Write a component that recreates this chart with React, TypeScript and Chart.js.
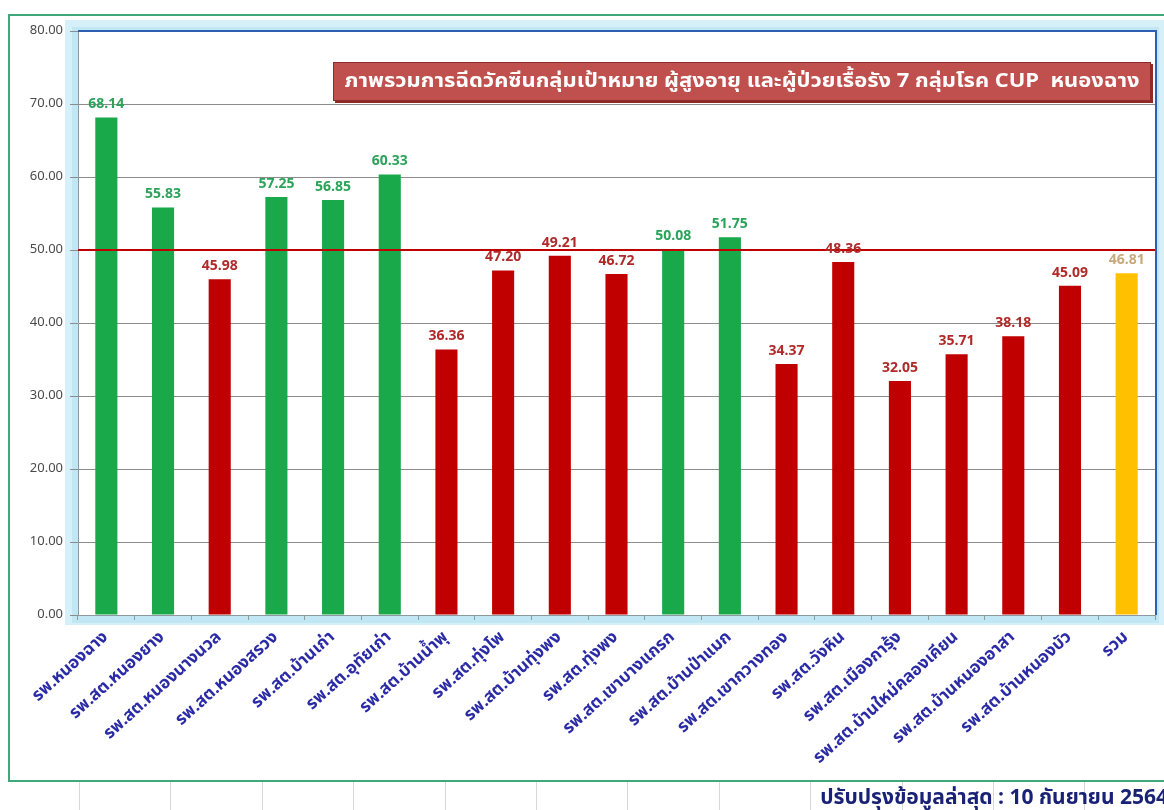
import React, { useEffect, useRef } from "react";
import { Chart, registerables } from "chart.js";

Chart.register(...registerables);

const categories: string[] = [
  "รพ.หนองฉาง",
  "รพ.สต.หนองยาง",
  "รพ.สต.หนองนางนวล",
  "รพ.สต.หนองสรวง",
  "รพ.สต.บ้านเก่า",
  "รพ.สต.อุทัยเก่า",
  "รพ.สต.บ้านน้ำพุ",
  "รพ.สต.ทุ่งโพ",
  "รพ.สต.บ้านทุ่งพง",
  "รพ.สต.ทุ่งพง",
  "รพ.สต.เขาบางแกรก",
  "รพ.สต.บ้านป่าแมก",
  "รพ.สต.เขากวางทอง",
  "รพ.สต.วังหิน",
  "รพ.สต.เมืองการุ้ง",
  "รพ.สต.บ้านใหม่คลองเคียน",
  "รพ.สต.บ้านหนองอาสา",
  "รพ.สต.บ้านหนองบัว",
  "รวม",
];

const values: number[] = [
  68.14, 55.83, 45.98, 57.25, 56.85, 60.33, 36.36, 47.2, 49.21, 46.72, 50.08,
  51.75, 34.37, 48.36, 32.05, 35.71, 38.18, 45.09, 46.81,
];

const targetValue = 50;
const yMin = 0;
const yMax = 80;
const yStep = 10;

const titleText =
  "ภาพรวมการฉีดวัคซีนกลุ่มเป้าหมาย ผู้สูงอายุ และผู้ป่วยเรื้อรัง 7 กลุ่มโรค CUP  หนองฉาง";
const footerText = "ปรับปรุงข้อมูลล่าสุด : 10 กันยายน 2564";

const FONT = "Tahoma, 'Noto Sans Thai', 'Noto Sans', 'DejaVu Sans', sans-serif";

const GREEN = "#19a84a";
const RED = "#c00000";
const YELLOW = "#ffc000";

export default function App() {
  const ref = useRef<HTMLCanvasElement | null>(null);

  useEffect(() => {
    if (!ref.current) return;
    const totalIndex = categories.length - 1;
    const barColors = values.map((v, i) =>
      i === totalIndex ? YELLOW : v >= targetValue ? GREEN : RED
    );
    const labelColors = values.map((v, i) =>
      i === totalIndex ? "#c9a97a" : v >= targetValue ? "#2ba35a" : "#b02a2a"
    );

    const framePlugin = {
      id: "frame",
      beforeDraw(chart: any) {
        const { ctx, chartArea, width, height } = chart;
        ctx.save();
        ctx.fillStyle = "#ffffff";
        ctx.fillRect(0, 0, width, height);
        // excel cell lines below frame
        ctx.strokeStyle = "#d8d8d8";
        ctx.lineWidth = 1;
        for (let x = 79; x < width; x += 91.4) {
          ctx.beginPath();
          ctx.moveTo(Math.round(x) + 0.5, 782);
          ctx.lineTo(Math.round(x) + 0.5, height);
          ctx.stroke();
        }
        // outer green frame
        ctx.strokeStyle = "#3ea878";
        ctx.lineWidth = 2;
        ctx.strokeRect(9, 15, width + 20, 766);
        // light blue wall
        const l = chartArea.left,
          r = chartArea.right,
          t = chartArea.top,
          b = chartArea.bottom;
        ctx.fillStyle = "#d6f0f9";
        ctx.fillRect(l - 13, t - 11, r - l + 22, b - t + 21);
        ctx.fillStyle = "#c2e7f4";
        ctx.fillRect(l - 6, t - 4, r - l + 10, b - t + 12);
        ctx.fillStyle = "#ffffff";
        ctx.fillRect(l, t, r - l, b - t);
        ctx.restore();
      },
      beforeDatasetsDraw(chart: any) {
        const { ctx, chartArea } = chart;
        ctx.save();
        ctx.strokeStyle = "#2f5fb0";
        ctx.lineWidth = 2;
        ctx.beginPath();
        ctx.moveTo(chartArea.left, chartArea.top);
        ctx.lineTo(chartArea.right + 1, chartArea.top);
        ctx.lineTo(chartArea.right + 1, chartArea.bottom);
        ctx.stroke();
        ctx.restore();
      },
      afterDatasetsDraw(chart: any) {
        const { ctx, chartArea } = chart;
        const y = chart.scales.y.getPixelForValue(targetValue);
        ctx.save();
        ctx.strokeStyle = "#c00000";
        ctx.lineWidth = 2;
        ctx.beginPath();
        ctx.moveTo(chartArea.left, y);
        ctx.lineTo(chartArea.right, y);
        ctx.stroke();

        // value labels
        const meta = chart.getDatasetMeta(0);
        ctx.font = `bold 14px ${FONT}`;
        ctx.textAlign = "center";
        ctx.textBaseline = "bottom";
        meta.data.forEach((bar: any, i: number) => {
          ctx.fillStyle = labelColors[i];
          ctx.fillText(values[i].toFixed(2), bar.x, bar.y - 5);
        });

        // title box
        const bw = 818,
          bh = 39;
        const bx = chartArea.right - 4 - bw;
        const by = chartArea.top + 31;
        ctx.fillStyle = "#8f2a28";
        ctx.fillRect(bx + 2, by + 2, bw, bh);
        ctx.fillStyle = "#c0504d";
        ctx.fillRect(bx, by, bw, bh);
        ctx.strokeStyle = "#8c2b29";
        ctx.lineWidth = 1;
        ctx.strokeRect(bx + 0.5, by + 0.5, bw - 1, bh - 1);
        ctx.fillStyle = "#ffffff";
        ctx.font = `bold 20px ${FONT}`;
        ctx.textBaseline = "middle";
        const tw = ctx.measureText(titleText).width;
        const target = 795;
        ctx.save();
        ctx.translate(bx + bw / 2, by + bh / 2 + 1);
        ctx.scale(Math.min(1.3, target / tw), 1);
        ctx.fillText(titleText, 0, 0);
        ctx.restore();

        // footer
        ctx.fillStyle = "#1a2275";
        ctx.font = `bold 21px ${FONT}`;
        ctx.textAlign = "right";
        ctx.fillText(footerText, chart.width + 4, 800);
        ctx.restore();
      },
    };

    const chart = new Chart(ref.current, {
      type: "bar",
      data: {
        labels: categories,
        datasets: [
          {
            data: values,
            backgroundColor: barColors,
            borderWidth: 0,
            barPercentage: 0.39,
            categoryPercentage: 1,
          },
        ],
      },
      options: {
        animation: false,
        responsive: false,
        devicePixelRatio: 1,
        layout: { padding: { left: 9, right: 9, top: 31, bottom: 0 } },
        plugins: {
          legend: { display: false },
          tooltip: { enabled: false },
          title: { display: false },
        },
        scales: {
          x: {
            grid: {
              display: true,
              drawOnChartArea: false,
              drawTicks: true,
              tickLength: 5,
              color: "#8a9aa0",
              offset: true,
            },
            border: { display: true, color: "#8a9aa0" },
            ticks: {
              autoSkip: false,
              minRotation: 42,
              maxRotation: 42,
              color: "#2b2ba6",
              padding: 8,
              font: { family: FONT, size: 17, weight: "bold" },
            },
            afterFit: (s: any) => {
              s.height = 195;
            },
          },
          y: {
            min: yMin,
            max: yMax,
            ticks: {
              stepSize: yStep,
              color: "#4a4a4a",
              padding: 7,
              font: { family: FONT, size: 13 },
              callback: (v: any) => Number(v).toFixed(2),
            },
            grid: { color: "#8c8c8c", tickLength: 8, lineWidth: 1 },
            border: { display: true, color: "#8a9aa0" },
            afterFit: (s: any) => {
              s.width = 69;
            },
          },
        },
      },
      plugins: [framePlugin],
    } as any);
    return () => chart.destroy();
  }, []);

  return (
    <div
      style={{
        position: "fixed",
        left: 0,
        top: 0,
        width: 1164,
        height: 810,
        background: "#fff",
      }}
    >
      <canvas
        ref={ref}
        width={1164}
        height={810}
        style={{ display: "block", width: 1164, height: 810 }}
      />
    </div>
  );
}
